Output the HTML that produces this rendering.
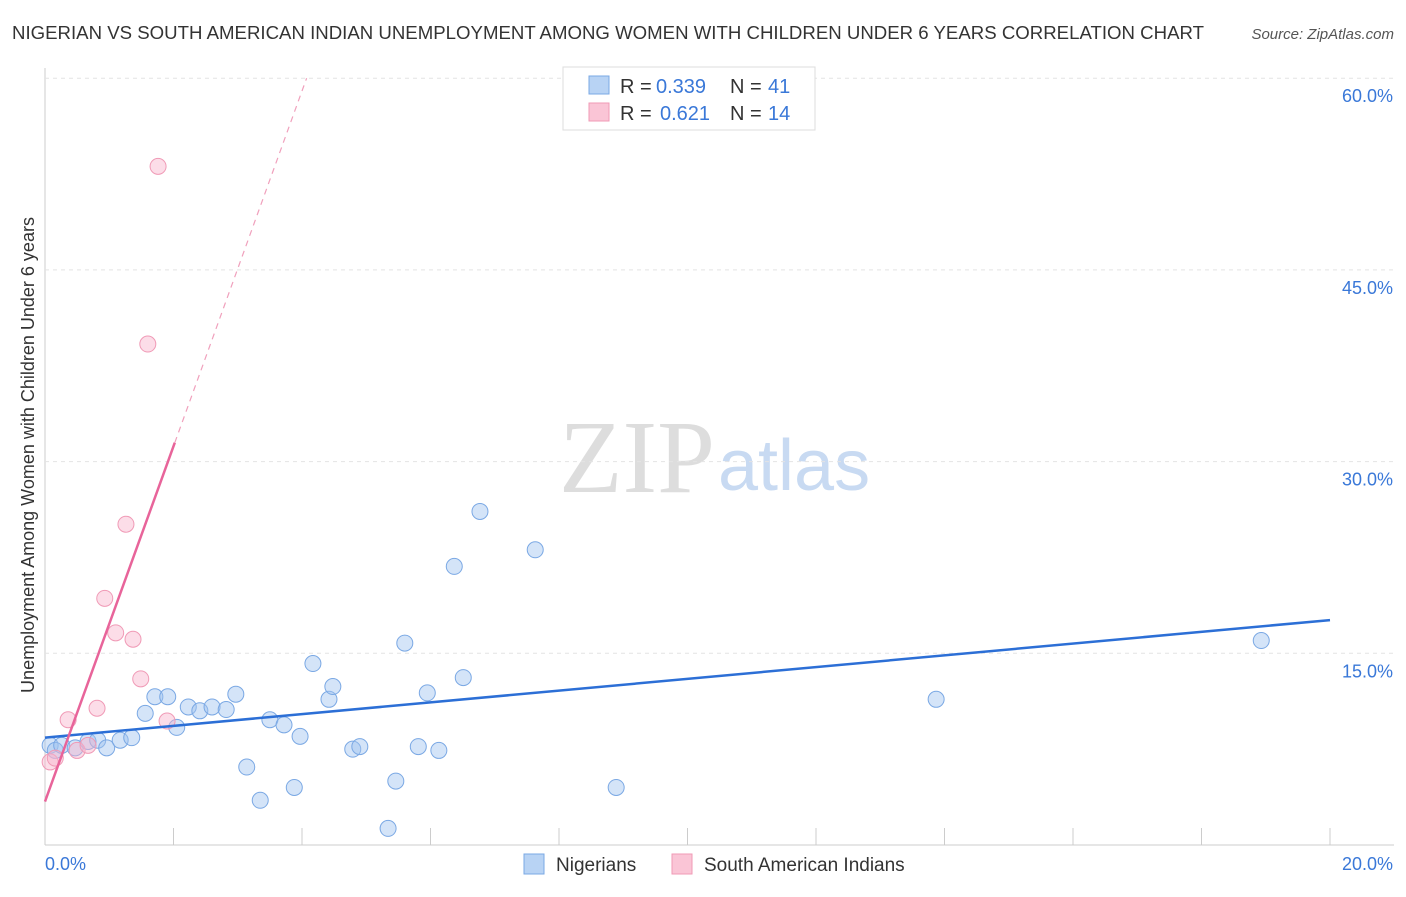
<!DOCTYPE html>
<html><head><meta charset="utf-8">
<style>
body{margin:0;background:#fff;font-family:"Liberation Sans",sans-serif;}
</style></head>
<body>
<svg id="c" width="1406" height="892" xmlns="http://www.w3.org/2000/svg">
<text x="12" y="39" font-size="18" fill="#333" textLength="1192" lengthAdjust="spacingAndGlyphs">NIGERIAN VS SOUTH AMERICAN INDIAN UNEMPLOYMENT AMONG WOMEN WITH CHILDREN UNDER 6 YEARS CORRELATION CHART</text>
<text x="1394" y="39" font-size="15" fill="#555" font-style="italic" text-anchor="end">Source: ZipAtlas.com</text>
<text x="715" y="492" font-size="104" fill="#ddd" text-anchor="end" font-family="Liberation Serif,serif">ZIP</text>
<text x="718" y="490" font-size="72" fill="#c8daf2">atlas</text>
<text transform="translate(34,455) rotate(-90)" font-size="18" fill="#333" text-anchor="middle">Unemployment Among Women with Children Under 6 years</text>
<g id="grid"></g><g id="marks"></g>
<g>
<rect x="563" y="67" width="252" height="63" fill="#fff" stroke="#ddd"/>
<rect x="589" y="76" width="20" height="18" fill="#b8d3f4" stroke="#7aa8e4"/>
<rect x="589" y="103" width="20" height="18" fill="#fac5d6" stroke="#f09ab6"/>
<text x="620" y="93" font-size="20" fill="#333">R =</text>
<text x="656" y="93" font-size="20" fill="#3a78d8">0.339</text>
<text x="730" y="93" font-size="20" fill="#333">N =</text>
<text x="768" y="93" font-size="20" fill="#3a78d8">41</text>
<text x="620" y="120" font-size="20" fill="#333">R =</text>
<text x="660" y="120" font-size="20" fill="#3a78d8">0.621</text>
<text x="730" y="120" font-size="20" fill="#333">N =</text>
<text x="768" y="120" font-size="20" fill="#3a78d8">14</text>
</g>
<g>
<rect x="524" y="854" width="20" height="20" fill="#b8d3f4" stroke="#7aa8e4"/>
<text x="556" y="871" font-size="19" fill="#333">Nigerians</text>
<rect x="672" y="854" width="20" height="20" fill="#fac5d6" stroke="#f09ab6"/>
<text x="704" y="871" font-size="19" fill="#333">South American Indians</text>
</g>
</svg>
<script>
const blueX=[0.08,0.16,0.26,0.47,0.67,0.82,0.96,1.17,1.35,1.56,1.71,1.91,2.05,2.23,2.41,2.60,2.82,2.97,3.14,3.35,3.50,3.72,3.88,3.97,4.17,4.42,4.48,4.79,4.90,5.34,5.46,5.60,5.81,5.95,6.13,6.37,6.51,6.77,7.63,8.89,13.87,18.93];
const blueY=[7.8,7.4,7.8,7.6,8.1,8.2,7.6,8.2,8.4,10.3,11.6,11.6,9.2,10.8,10.5,10.8,10.6,11.8,6.1,3.5,9.8,9.4,4.5,8.5,14.2,11.4,12.4,7.5,7.7,1.3,5.0,15.8,7.7,11.9,7.4,21.8,13.1,26.1,23.1,4.5,11.4,16.0];
const pinkX=[0.08,0.16,0.36,0.50,0.67,0.81,0.93,1.10,1.26,1.37,1.49,1.60,1.76,1.90];
const pinkY=[6.5,6.8,9.8,7.4,7.8,10.7,19.3,16.6,25.1,16.1,13.0,39.2,53.1,9.7];
const blueTrend=[8.4,17.6];
const pinkTrend=[3.4,13.9];
const yTicks=[15,30,45,60];
const xTicks=[0,2,4,6,8,10,12,14,16,18,20];
const X=v=>45+v/20*1285, Y=v=>845-v/15*191.7;
const NS="http://www.w3.org/2000/svg";
function mk(p,t,a){const e=document.createElementNS(NS,t);for(const k in a)e.setAttribute(k,a[k]);p.appendChild(e);return e;}
const g=document.getElementById('grid'),m=document.getElementById('marks');
let ax=mk(g,'line',{x1:45,y1:68,x2:45,y2:845,stroke:'#ccc'});

let bx=mk(g,'line',{x1:45,y1:845,x2:1394,y2:845,stroke:'#ccc'});

yTicks.forEach(t=>{const l=mk(g,'line',{x1:45,y1:Y(t),x2:1394,y2:Y(t),stroke:'#e4e4e4','stroke-dasharray':'4,4'});

const tx=mk(g,'text',{x:1393,y:Y(t)+24,'font-size':18,fill:'#3a78d8','text-anchor':'end'});tx.textContent=t.toFixed(1)+'%';
});
xTicks.forEach(t=>{const l=mk(g,'line',{x1:X(t),y1:828,x2:X(t),y2:845,stroke:'#ccc'});
});
[[0,'start',45],[20,'end',1393]].forEach(([v,a,x])=>{const tx=mk(g,'text',{x:x,y:870,'font-size':18,fill:'#3a78d8','text-anchor':a});tx.textContent=v.toFixed(1)+'%';
});
blueX.forEach((v,i)=>{const c=mk(m,'circle',{cx:X(v),cy:Y(blueY[i]),r:8,fill:'rgba(160,196,240,0.45)',stroke:'#7aa8e4','stroke-width':1});
});
pinkX.forEach((v,i)=>{const c=mk(m,'circle',{cx:X(v),cy:Y(pinkY[i]),r:8,fill:'rgba(248,180,204,0.45)',stroke:'#f09ab6','stroke-width':1});
});
let bl=mk(m,'line',{x1:X(0),y1:Y(blueTrend[0]),x2:X(20),y2:Y(blueTrend[1]),stroke:'#2c6fd6','stroke-width':2.5});

const pend=(60-pinkTrend[0])/pinkTrend[1];
let ps=mk(m,'line',{x1:X(0),y1:Y(pinkTrend[0]),x2:X(2.02),y2:Y(pinkTrend[0]+pinkTrend[1]*2.02),stroke:'#e8649a','stroke-width':2.5});

let pd=mk(m,'line',{x1:X(2.02),y1:Y(pinkTrend[0]+pinkTrend[1]*2.02),x2:X(pend),y2:Y(60),stroke:'#f0a0bc','stroke-width':1.2,'stroke-dasharray':'6,5'});

</script>
</body></html>
